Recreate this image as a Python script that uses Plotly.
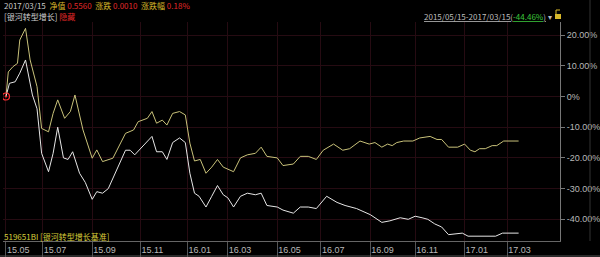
import plotly.graph_objects as go

# ---- data (trading-day index from 2015/05/15, % change) ----
fund_day = [0,3,8,12,17,23,27,31,37,41,45,50,54,58,64,69,75,79,84,89,104,108,112,118,127,
            131,136,140,145,151,156,160,164,168,174,179,184,189,193,198,204,210,217,222,227,
            236,241,250,256,263,270,279,288,295,305,317,327,334,343,350,356,362,367,373,379,
            385,397,402,426,432,446]
fund_val = [0,4.3,4.8,7.6,11.9,0.5,-4,-18.5,-24.5,-18.5,-10,-20,-20.5,-18,-25,-28,-33.5,-31,-31.5,-30,
            -17.5,-17.5,-19,-16.5,-13,-18,-18,-20.5,-15,-13.5,-15,-25,-31.5,-32.5,-36,-32.5,-29,-32,-33,-36,
            -32.5,-31.5,-32,-31.5,-35.5,-36,-37,-38,-36,-36,-36.5,-32.5,-34.5,-35.5,-36.5,-38.5,-41,-40.5,
            -39.5,-40,-39,-39.5,-40,-41.5,-42.5,-45,-44.5,-45.5,-45.5,-44.5,-44.5]

bench_day = [0,2,6,10,12,17,21,27,31,37,41,45,51,56,60,67,75,79,84,93,104,111,115,123,127,131,136,140,
             145,151,156,160,164,169,174,179,184,189,198,204,210,217,222,227,236,241,250,256,263,270,
             276,285,293,299,308,316,321,327,332,336,340,346,354,360,369,375,379,385,393,399,404,408,
             412,417,423,427,433,446]
bench_val = [0,8,9.7,10.8,18.4,22.2,11.9,3.2,-10.4,-11.5,-5.5,-1.1,-7.1,-4.9,0.5,-10.9,-20.1,-17.4,-21.2,
             -20.1,-12,-10.9,-8.2,-7.1,-4.9,-8.7,-7.7,-9.3,-5.5,-4.9,-6,-15.2,-21,-20.5,-25,-23,-20.5,-23,
             -24.5,-20,-19,-18.5,-16.5,-19.5,-20,-22.5,-22,-19.5,-19.5,-20.5,-17.5,-15.5,-17.5,-17,-14.5,
             -15.5,-15,-16.5,-15.5,-16,-15,-14.5,-14.5,-13.5,-13,-14,-14,-16.5,-16.5,-15.5,-17.5,-18,-17,
             -17,-16,-16,-14.5,-14.5]

x_tick_pos = [0, 32, 75, 117, 158, 193, 236, 274, 317, 356, 399, 436]
x_tick_text = ["15.05", "15.07", "15.09", "15.11", "16.01", "16.03", "16.05",
               "16.07", "16.09", "16.11", "17.01", "17.03"]
y_tick_pos = [20, 10, 0, -10, -20, -30, -40]
y_tick_text = ["20.00%", "10.00%", "0%", "-10.00%", "-20.00%", "-30.00%", "-40.00%"]

W, H = 600, 257
GRID = "#260b12"
LBL = "#b8b8b8"
FONT = "Liberation Sans, Arial, Noto Sans CJK SC, sans-serif"
CJK = "Noto Sans CJK SC, sans-serif"

fig = go.Figure()
fig.add_trace(go.Scatter(x=bench_day, y=bench_val, mode="lines",
                         line=dict(color="#c9c27a", width=1), hoverinfo="skip"))
fig.add_trace(go.Scatter(x=fund_day, y=fund_val, mode="lines",
                         line=dict(color="#e6e6e6", width=1), hoverinfo="skip"))
fig.add_trace(go.Scatter(x=fund_day[:1], y=fund_val[:1], mode="markers",
                         marker=dict(symbol="circle-open-dot", size=7, color="#ff3030",
                                     line=dict(width=1.2, color="#ff3030")), hoverinfo="skip"))

def px(x):
    return x / W

def py(y):
    return 1 - y / H

fig.update_layout(
    width=W, height=H, margin=dict(l=0, r=0, t=0, b=0),
    paper_bgcolor="#000000", plot_bgcolor="#000000", showlegend=False,
    xaxis=dict(domain=[px(3), px(560)], range=[-2.6, 482], tickmode="array",
               tickvals=x_tick_pos, ticktext=x_tick_text, ticks="outside", ticklen=15,
               tickcolor="#555555", tickwidth=1, showline=True, linecolor="#666666",
               showgrid=True, gridcolor=GRID, gridwidth=1, zeroline=False,
               ticklabelposition="outside right",
               tickfont=dict(family=FONT, size=9, color=LBL)),
    yaxis=dict(domain=[py(241), py(22)], range=[-47.07, 24.27], side="right",
               tickmode="array", tickvals=y_tick_pos, ticktext=y_tick_text,
               ticks="outside", ticklen=4, tickcolor="#777777", showline=True,
               linecolor="#777777", showgrid=True, gridcolor=GRID, zeroline=False,
               tickfont=dict(family=FONT, size=9, color=LBL)),
)

ann = [
    (2, 5, 8, '<span style="color:#c8c8c8">2017/03/15</span>  '
              '<span style="color:#d8b82a">净值</span> <span style="color:#e02828">0.5560</span>  '
              '<span style="color:#d8b82a">涨跌</span> <span style="color:#e02828">0.0010</span>  '
              '<span style="color:#d8b82a">涨跌幅</span> <span style="color:#e02828">0.18%</span>'),
    (2, 17, 8, '<span style="color:#d0d0d0">[银河转型增长]</span> <span style="color:#e02828">隐藏</span>'),
    (422, 16, 8, '<span style="color:#bdbdbd"><u>2015/05/15-2017/03/15(</u></span>'
                 '<span style="color:#3cc83c"><u>-44.46%</u></span><span style="color:#bdbdbd"><u>)</u> ▾</span>'),
    (2, 236, 8, '<span style="color:#d8cf3a">519651BI [银河转型增长基准]</span>'),
]
for x, y, s, t in ann:
    fig.add_annotation(x=px(x), y=py(y), xref="paper", yref="paper", text=t,
                       showarrow=False, xanchor="left", yanchor="middle",
                       font=dict(family=CJK, size=s))

# lock icon and frame lines
fig.add_shape(type="rect", xref="paper", yref="paper", x0=px(555), x1=px(561), y0=py(19), y1=py(14),
              fillcolor="#d8b82a", line=dict(width=0))
fig.add_shape(type="path", xref="paper", yref="paper",
              path=f"M {px(556)} {py(14)} L {px(556)} {py(10)} L {px(560)} {py(10)}",
              line=dict(color="#d8b82a", width=1))
fig.add_shape(type="line", xref="paper", yref="paper", x0=px(590), x1=px(590), y0=py(0), y1=py(241),
              line=dict(color="#333333", width=1))
fig.add_shape(type="line", xref="paper", yref="paper", x0=0, x1=1, y0=py(256), y1=py(256),
              line=dict(color="#555555", width=1))

fig.write_html("out.html")
